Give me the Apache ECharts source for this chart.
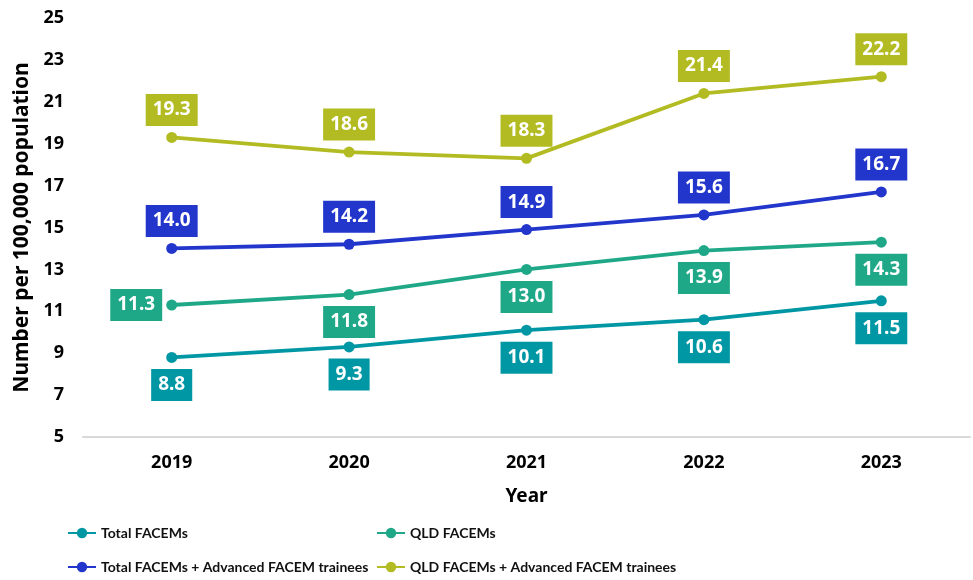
<!DOCTYPE html>
<html>
<head>
	<meta charset="utf-8">
	<title>FACEMs</title>
	<script src="https://cdn.jsdelivr.net/npm/echarts@6/dist/echarts.min.js"></script>
</head>
<body style="margin:0;">
	<div id="container" style="width: 973px;height:580px;"></div>
	<script type="text/javascript">
		var years = ['2019', '2020', '2021', '2022', '2023'];
		var totalFacems = [8.8, 9.3, 10.1, 10.6, 11.5];
		var qldFacems = [11.3, 11.8, 13.0, 13.9, 14.3];
		var totalAdv = [14.0, 14.2, 14.9, 15.6, 16.7];
		var qldAdv = [19.3, 18.6, 18.3, 21.4, 22.2];

		var font = 'Noto Sans';

		function mkSeries(name, data, color, pos) {
			return {
				name: name,
				type: 'line',
				data: data,
				symbol: 'circle',
				symbolSize: 11,
				itemStyle: { color: color },
				lineStyle: { width: 3.8, color: color },
				label: {
					show: true,
					position: pos,
					distance: 6,
					formatter: function (p) { return p.value.toFixed(1); },
					color: '#fff',
					fontFamily: font,
					fontWeight: 'bold',
					fontSize: 19,
					lineHeight: 20,
					backgroundColor: color,
					padding: [6, 7, 6, 7]
				}
			};
		}

		var qld = mkSeries('QLD FACEMs', qldFacems, '#1fa888', 'bottom');
		// first point label sits left of the marker
		qld.data = qldFacems.map(function (v, i) {
			return i === 0 ? { value: v, label: { position: 'left', distance: 4 } } : v;
		});

		var legendText = { fontFamily: 'Lato', fontWeight: 'bold', fontSize: 14, color: '#111' };
		function mkLegend(name, left, top) {
			return { data: [name], left: left, top: top, itemWidth: 28, itemHeight: 13, itemGap: 0, padding: 0, textStyle: legendText };
		}

		var myChart = echarts.init(document.getElementById('container'));
		myChart.setOption({
			animation: false,
			grid: { left: 83, right: 3, top: 18, bottom: 143, outerBoundsMode: 'none' },
			legend: [
				mkLegend('Total FACEMs', 67, 526),
				mkLegend('QLD FACEMs', 376, 526),
				mkLegend('Total FACEMs + Advanced FACEM trainees', 67, 560),
				mkLegend('QLD FACEMs + Advanced FACEM trainees', 376, 560)
			],
			xAxis: {
				type: 'category',
				data: years,
				name: 'Year',
				nameLocation: 'middle',
				nameGap: 50,
				nameTextStyle: { fontFamily: font, fontWeight: 'bold', fontSize: 19, color: '#000' },
				axisLine: { lineStyle: { color: '#d9d9d9', width: 2 } },
				axisTick: { show: false },
				axisLabel: { fontFamily: font, fontWeight: 'bold', fontSize: 18, color: '#000', margin: 17 }
			},
			yAxis: {
				type: 'value',
				min: 5,
				max: 25,
				interval: 2,
				name: 'Number per 100,000 population',
				nameLocation: 'middle',
				nameGap: 47,
				nameTextStyle: { fontFamily: font, fontWeight: 'bold', fontSize: 21, color: '#000' },
				splitLine: { show: false },
				axisLine: { show: false },
				axisLabel: { fontFamily: font, fontWeight: 'bold', fontSize: 18, color: '#000', margin: 19 }
			},
			series: [
				mkSeries('Total FACEMs', totalFacems, '#0097a4', 'bottom'),
				qld,
				mkSeries('Total FACEMs + Advanced FACEM trainees', totalAdv, '#2236cc', 'top'),
				mkSeries('QLD FACEMs + Advanced FACEM trainees', qldAdv, '#b3bb22', 'top')
			]
		});
	</script>
</body>
</html>
